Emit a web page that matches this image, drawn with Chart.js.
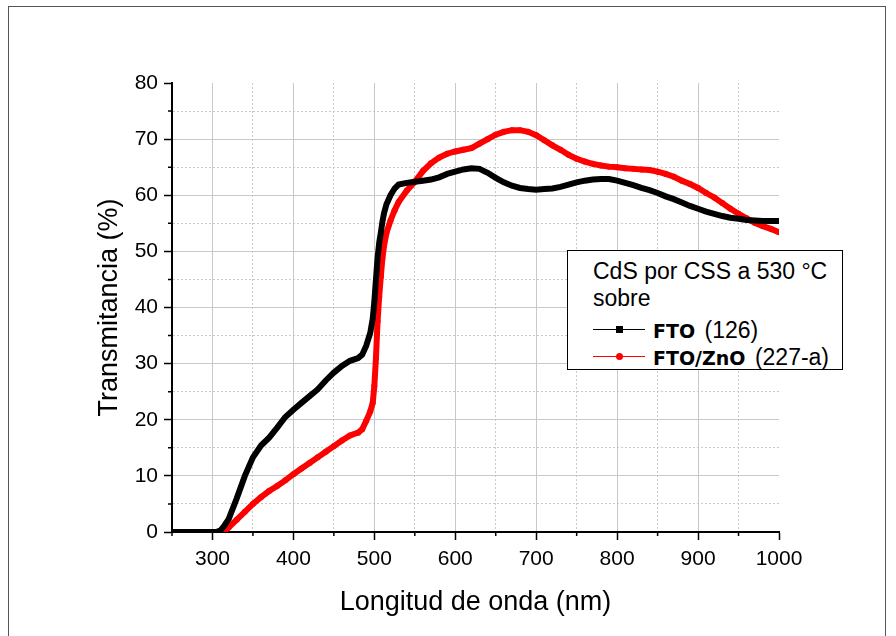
<!DOCTYPE html>
<html>
<head>
<meta charset="utf-8">
<script src="https://cdn.jsdelivr.net/npm/chart.js@4.4.1/dist/chart.umd.min.js"></script>
<style>
  html, body { margin: 0; padding: 0; background: #fff; }
  #wrap { position: relative; width: 896px; height: 636px; overflow: hidden; }
  #frame { position: absolute; left: 8px; top: 6px; width: 878px; height: 660px; border: 1.5px solid #555; box-sizing: border-box; }
  #myChart { position: absolute; left: 0; top: 0; }
  #legend {
    position: absolute; left: 567px; top: 250px; width: 276px; height: 120px;
    border: 1px solid #000; background: #fff; box-sizing: border-box;
    font-family: "Liberation Sans", Arial, sans-serif; font-size: 23px; color: #000;
  }
  #legend .ttl { position: absolute; left: 25px; top: 7px; line-height: 27px; white-space: nowrap; }
  #legend .row { position: absolute; left: 25px; height: 24px; line-height: 24px; white-space: nowrap; }
  #legend .sample { display: inline-block; position: relative; width: 52px; height: 24px; vertical-align: top; }
  #legend .sample i { position: absolute; left: 0; right: 0; top: 11px; height: 1px; }
  #legend .sample b { position: absolute; left: 23px; top: 8px; width: 7px; height: 7px; }
  #legend .bold { font-family: "DejaVu Sans", sans-serif; font-weight: bold; font-size: 19px; margin-left: 8px; margin-right: 3px; }
</style>
</head>
<body>
<div id="wrap">
  <canvas id="myChart" width="896" height="636"></canvas>
  <div id="frame"></div>
  <div id="legend">
    <div class="ttl">CdS por CSS a 530 °C<br>sobre</div>
    <div class="row" style="top:67px"><span class="sample"><i style="background:#000"></i><b style="background:#000"></b></span><span class="bold">FTO</span> (126)</div>
    <div class="row" style="top:94px"><span class="sample"><i style="background:#f00"></i><b style="background:#f00;border-radius:50%"></b></span><span class="bold">FTO/ZnO</span> (227-a)</div>
  </div>
</div>
<script>
(function () {
  "use strict";

  // wavelength (nm)
  var wavelength = [250, 260, 270, 280, 290, 300, 305, 310, 315, 320, 330, 340, 350, 360, 370, 380, 390,
    400, 410, 420, 430, 440, 450, 460, 470, 480, 485, 490, 495, 498, 500, 502, 504, 506, 508, 510,
    512, 515, 520, 525, 530, 540, 550, 560, 570, 580, 590, 600, 610, 620, 630, 640, 650, 660, 670,
    680, 690, 700, 710, 720, 730, 740, 750, 760, 770, 780, 790, 800, 810, 820, 830, 840, 850, 860,
    870, 880, 890, 900, 910, 920, 930, 940, 950, 960, 970, 980, 990, 1000];

  // transmittance (%) - FTO (126)
  var ftoT = [0, 0, 0, 0, 0, 0, 0, 0.3, 1.2, 2.3, 6, 10, 13.3, 15.4, 16.8, 18.6, 20.5,
    21.8, 23, 24.2, 25.4, 27, 28.4, 29.6, 30.5, 31, 31.6, 33.2, 35.5, 38, 41, 45, 48.8, 51.5, 53.3, 55.3,
    56.8, 58.4, 60, 61.2, 61.9, 62.2, 62.4, 62.6, 62.8, 63.2, 63.8, 64.2, 64.6, 64.8, 64.7, 64, 63.1, 62.3, 61.7,
    61.3, 61.1, 61, 61.1, 61.2, 61.5, 61.9, 62.3, 62.6, 62.8, 62.9, 62.9, 62.6, 62.2, 61.8, 61.3, 60.9, 60.4, 59.8,
    59.3, 58.7, 58.1, 57.6, 57.1, 56.7, 56.3, 56, 55.8, 55.6, 55.5, 55.4, 55.4, 55.4];

  // transmittance (%) - FTO/ZnO (227-a)
  var znoT = [0, 0, 0, 0, 0, 0, 0, 0, 0.2, 0.8, 2.2, 3.6, 5, 6.2, 7.3, 8.2, 9.2,
    10.3, 11.3, 12.3, 13.3, 14.3, 15.3, 16.3, 17.2, 17.7, 18.3, 19.8, 21.5, 23, 26, 31, 37.5, 42, 45.5, 48.8,
    51, 53.3, 55.5, 57.3, 58.8, 60.8, 62.4, 64.3, 65.7, 66.7, 67.4, 67.8, 68.1, 68.4, 69.2, 70, 70.8, 71.3, 71.6,
    71.6, 71.3, 70.7, 69.8, 68.9, 68.1, 67.2, 66.5, 66, 65.6, 65.3, 65.1, 65, 64.8, 64.7, 64.6, 64.5, 64.2, 63.8,
    63.3, 62.6, 62, 61.3, 60.4, 59.6, 58.6, 57.6, 56.7, 55.9, 55.1, 54.5, 54, 53.4];

  function pts(ys) {
    return wavelength.map(function (x, i) { return { x: x, y: ys[i] }; });
  }

  var gridGray = "#c8c8c8";

  // short minor ticks (major ticks come from the library)
  var minorTicks = {
    id: "minorTicks",
    afterDraw: function (chart) {
      var ctx = chart.ctx, xs = chart.scales.x, ys = chart.scales.y;
      ctx.save();
      ctx.strokeStyle = "#000";
      ctx.lineWidth = 1.5;
      ctx.beginPath();
      xs.ticks.forEach(function (t) {
        if (t.value % 100 !== 0) {
          var px = xs.getPixelForValue(t.value);
          ctx.moveTo(px, xs.top);
          ctx.lineTo(px, xs.top + 4);
        }
      });
      ys.ticks.forEach(function (t) {
        if (t.value % 10 !== 0) {
          var py = ys.getPixelForValue(t.value);
          ctx.moveTo(ys.right, py);
          ctx.lineTo(ys.right - 4, py);
        }
      });
      ctx.stroke();
      ctx.restore();
    }
  };

  var ctx = document.getElementById("myChart").getContext("2d");
  new Chart(ctx, {
    type: "line",
    data: {
      datasets: [
        {
          label: "FTO (126)",
          data: pts(ftoT),
          borderColor: "#000",
          backgroundColor: "#000",
          borderWidth: 6,
          pointStyle: "rect",
          pointRadius: 2.8,
          pointBorderWidth: 0,
          tension: 0,
        },
        {
          label: "FTO/ZnO (227-a)",
          data: pts(znoT),
          borderColor: "#ff0000",
          backgroundColor: "#ff0000",
          borderWidth: 6,
          pointStyle: "circle",
          pointRadius: 3,
          pointBorderWidth: 0,
          tension: 0,
        },
      ],
    },
    options: {
      responsive: false,
      animation: false,
      layout: { padding: { left: 0, top: 83, right: 117, bottom: 4 } },
      plugins: { legend: { display: false }, tooltip: { enabled: false } },
      scales: {
        x: {
          type: "linear",
          min: 250,
          max: 1000,
          afterFit: function (s) { s.height = 100; },
          ticks: {
            stepSize: 50,
            autoSkip: false,
            maxRotation: 0,
            color: "#000",
            padding: 7,
            font: { family: "Liberation Sans", size: 21 },
            callback: function (v) { return v % 100 === 0 ? v : ""; },
          },
          grid: {
            color: function (c) {
              var v = c.tick ? c.tick.value : 0;
              return (v === 250 || v === 1000) ? "rgba(0,0,0,0)" : gridGray;
            },
            lineWidth: 1,
            tickLength: 8,
            tickWidth: 1.5,
            tickColor: function (c) {
              return c.tick && c.tick.value % 100 === 0 ? "#000" : "rgba(0,0,0,0)";
            },
          },
          border: {
            color: "#000",
            width: 2,
            dash: function (c) {
              return c.tick && c.tick.value % 100 !== 0 ? [2, 2] : [];
            },
          },
          title: {
            display: true,
            text: "Longitud de onda (nm)",
            color: "#000",
            font: { family: "Liberation Sans", size: 27 },
            padding: 13,
          },
        },
        y: {
          min: 0,
          max: 80,
          afterFit: function (s) { s.width = 172; },
          ticks: {
            stepSize: 5,
            autoSkip: false,
            color: "#000",
            padding: 6,
            font: { family: "Liberation Sans", size: 21 },
            callback: function (v) { return v % 10 === 0 ? v : ""; },
          },
          grid: {
            color: function (c) {
              var v = c.tick ? c.tick.value : 0;
              return (v === 0 || v === 80) ? "rgba(0,0,0,0)" : gridGray;
            },
            lineWidth: 1,
            tickLength: 8,
            tickWidth: 1.5,
            tickColor: function (c) {
              return c.tick && c.tick.value % 10 === 0 ? "#000" : "rgba(0,0,0,0)";
            },
          },
          border: {
            color: "#000",
            width: 2,
            dash: function (c) {
              return c.tick && c.tick.value % 10 !== 0 ? [2, 2] : [];
            },
          },
          title: {
            display: true,
            text: "Transmitancia (%)",
            color: "#000",
            font: { family: "Liberation Sans", size: 27 },
            padding: 93,
          },
        },
      },
    },
    plugins: [minorTicks],
  });
})();
</script>
</body>
</html>
